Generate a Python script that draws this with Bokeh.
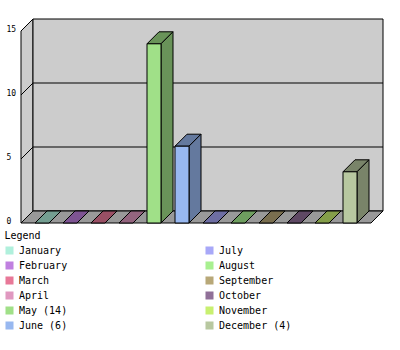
from bokeh.plotting import figure
from bokeh.layouts import column
from bokeh.models import Range1d
from bokeh.core.properties import value
from bokeh.embed import file_html
from bokeh.resources import INLINE

# ---- data ----
months = ["January", "February", "March", "April", "May", "June",
          "July", "August", "September", "October", "November", "December"]
counts = [0, 0, 0, 0, 14, 6, 0, 0, 0, 0, 0, 4]
colors = ["#b0f0dc", "#c080e0", "#e87898", "#e098c0", "#a0e088", "#98b8f0",
          "#a8a8f8", "#a8f090", "#b8a878", "#907098", "#c8f070", "#b8c8a0"]
y_ticks = [0, 5, 10, 15]
legend_title = "Legend"

# ---- layout constants (pixels) ----
W = 400
H1 = 228
H2 = 122
X0 = 20.5      # pixel of front-left axis
SLOT = 28.0    # pixels per category
Y0 = 222.5     # pixel of value 0 on front
KY = 12.8      # pixels per value unit
DEPTH = 12.0   # 3d depth in pixels
TXT_SHIFT = 4  # baseline correction in pixels

dx = DEPTH / SLOT
dy = DEPTH / KY
n = len(months)
floor_end = n + 0.5
y_max = y_ticks[-1]
FONT = value("DejaVu Sans Mono")


def shade(c, f=0.66):
    c = c.lstrip("#")
    r, g, b = (int(c[i:i + 2], 16) for i in (0, 2, 4))
    return "#%02x%02x%02x" % (int(r * f), int(g * f), int(b * f))


p = figure(width=W, height=H1,
           x_range=Range1d(-X0 / SLOT, (W - X0) / SLOT),
           y_range=Range1d(-(H1 - Y0) / KY, Y0 / KY),
           x_axis_type=None, y_axis_type=None,
           output_backend="svg", toolbar_location=None, min_border=0)
p.grid.visible = False
p.outline_line_color = None
p.background_fill_color = "white"
p.border_fill_color = "white"

# left side wall
p.patch([0, dx, dx, 0], [0, dy, y_max + dy, y_max],
        fill_color="#cccccc", line_color="black", line_width=1)
# back wall
p.quad(left=[dx], right=[floor_end + dx], bottom=[dy], top=[y_max + dy],
       fill_color="#cccccc", line_color="black", line_width=1)
# grid lines on back wall
inner = y_ticks[1:-1]
p.segment(x0=[dx] * len(inner), x1=[floor_end + dx] * len(inner),
          y0=[t + dy for t in inner], y1=[t + dy for t in inner],
          line_color="black", line_width=1)
# floor
p.patch([0, floor_end, floor_end + dx, dx], [0, 0, dy, dy],
        fill_color="#999999", line_color="black", line_width=1)
# tick diagonals on left wall
p.segment(x0=[0] * len(y_ticks), x1=[dx] * len(y_ticks),
          y0=y_ticks, y1=[t + dy for t in y_ticks],
          line_color="black", line_width=1)

# bars
top_xs, top_ys, top_c = [], [], []
side_xs, side_ys, side_c = [], [], []
fl, fr, ft, fc = [], [], [], []
for i, (v, c) in enumerate(zip(counts, colors)):
    l, r = i + 0.5, i + 1.0
    top_xs.append([l, r, r + dx, l + dx])
    top_ys.append([v, v, v + dy, v + dy])
    top_c.append(shade(c))
    if v > 0:
        side_xs.append([r, r + dx, r + dx, r])
        side_ys.append([0, dy, v + dy, v])
        side_c.append(shade(c))
        fl.append(l); fr.append(r); ft.append(v); fc.append(c)

p.patches(top_xs, top_ys, fill_color=top_c, line_color="black", line_width=1)
p.patches(side_xs, side_ys, fill_color=side_c, line_color="black", line_width=1)
p.quad(left=fl, right=fr, bottom=[0] * len(fl), top=ft,
       fill_color=fc, line_color="black", line_width=1)

# tick labels
p.text(x=[(6 - X0) / SLOT] * len(y_ticks), y=y_ticks,
       text=[str(t) for t in y_ticks], text_font=FONT, text_font_size="8px",
       text_color="black", text_baseline="alphabetic", text_align="left",
       y_offset=1.5 - TXT_SHIFT)

# ---- legend figure ----
q = figure(width=W, height=H2, x_range=Range1d(0, W), y_range=Range1d(H2, 0),
           x_axis_type=None, y_axis_type=None,
           output_backend="svg", toolbar_location=None, min_border=0)
q.grid.visible = False
q.outline_line_color = None
q.background_fill_color = "white"
q.border_fill_color = "white"

labels = [m + (" (%d)" % v if v > 0 else "") for m, v in zip(months, counts)]
rows = n // 2
sl, sr, st, sb, tx, ty = [], [], [], [], [], []
for i in range(n):
    r_, c_ = i % rows, i // rows
    sl.append(5 + 200 * c_); sr.append(13 + 200 * c_)
    st.append(18 + 15 * r_); sb.append(26 + 15 * r_)
    tx.append(18.5 + 200 * c_); ty.append(26 + 15 * r_ - TXT_SHIFT)

q.quad(left=sl, right=sr, top=st, bottom=sb, fill_color=colors, line_color=None)
q.text(x=tx, y=ty, text=labels, text_font=FONT, text_font_size="10px",
       text_color="black", text_baseline="alphabetic", text_align="left")
q.text(x=[4], y=[11 - TXT_SHIFT], text=[legend_title], text_font=FONT,
       text_font_size="10px", text_color="black", text_baseline="alphabetic",
       text_align="left")

layout = column(p, q, spacing=0)
open("out.html", "w").write(file_html(layout, INLINE))
